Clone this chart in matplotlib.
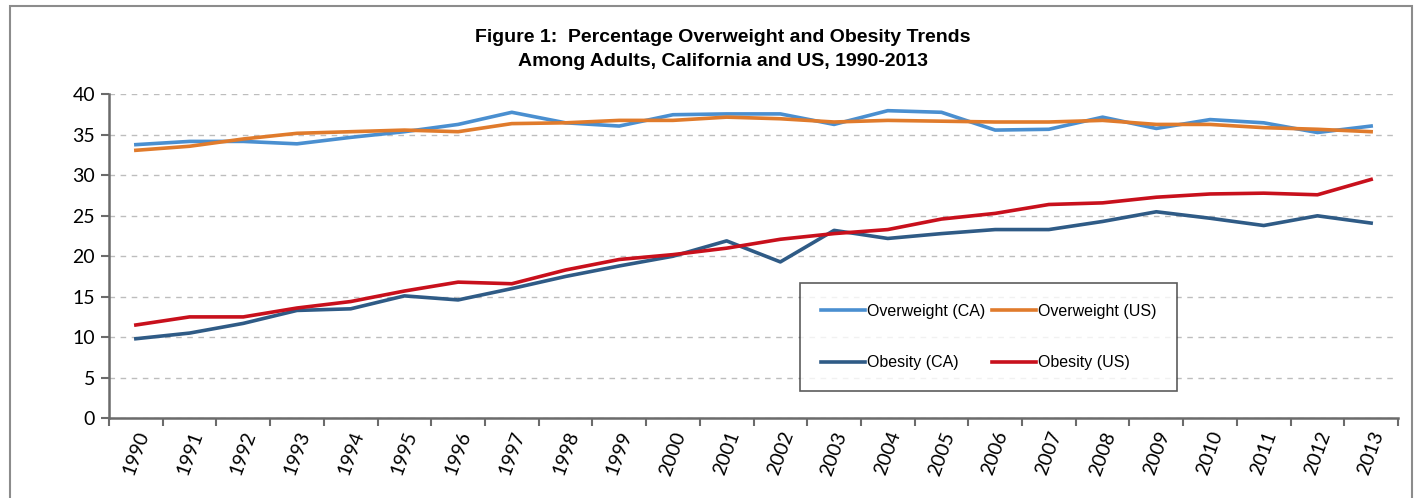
import matplotlib
matplotlib.use('Agg')
import matplotlib.pyplot as plt
import matplotlib.patches as mpatches
import numpy as np

#%% data

years = [str(y) for y in range(1990, 2014)]

overweight_ca = [33.8, 34.2, 34.2, 33.9, 34.7, 35.4, 36.3, 37.8, 36.5, 36.1, 37.5, 37.6,
                 37.6, 36.3, 38.0, 37.8, 35.6, 35.7, 37.2, 35.8, 36.9, 36.5, 35.3, 36.1]
overweight_us = [33.1, 33.6, 34.5, 35.2, 35.4, 35.6, 35.4, 36.4, 36.5, 36.8, 36.8, 37.2,
                 37.0, 36.6, 36.8, 36.7, 36.6, 36.6, 36.8, 36.3, 36.3, 35.9, 35.7, 35.4]
obesity_ca = [9.8, 10.5, 11.7, 13.3, 13.5, 15.1, 14.6, 16.0, 17.5, 18.8, 20.0, 21.9,
              19.3, 23.2, 22.2, 22.8, 23.3, 23.3, 24.3, 25.5, 24.7, 23.8, 25.0, 24.1]
obesity_us = [11.5, 12.5, 12.5, 13.6, 14.4, 15.7, 16.8, 16.6, 18.3, 19.6, 20.2, 21.0,
              22.1, 22.8, 23.3, 24.6, 25.3, 26.4, 26.6, 27.3, 27.7, 27.8, 27.6, 29.5]

series = [('Overweight (CA)', overweight_ca, '#4a8fd0'),
          ('Overweight (US)', overweight_us, '#e07b2c'),
          ('Obesity (CA)', obesity_ca, '#2f5b86'),
          ('Obesity (US)', obesity_us, '#c8101c')]

#%% plot

fig = plt.figure(figsize=(14.24, 4.98), dpi=100)
ax = fig.add_axes([109/1424, 1 - 418/498, (1398 - 109)/1424, (418 - 94.5)/498])

x = np.arange(len(years))
lines = {}
for label, vals, color in series:
    lines[label], = ax.plot(x, vals, color=color, linewidth=2.6, label=label,
                            solid_joinstyle='round', zorder=3)

ax.set_xlim(-0.5, len(years) - 0.5)
ax.set_ylim(0, 40)
ax.set_yticks(range(0, 41, 5))
ax.yaxis.grid(True, linestyle=(0, (4, 4)), color='#bdbdbd', linewidth=1.0)
ax.set_axisbelow(True)

# category axis: ticks between categories, labels at the centres
ax.set_xticks(np.arange(-0.5, len(years), 1.0))
ax.set_xticklabels([])
ax.set_xticks(x, minor=True)
ax.set_xticklabels(years, minor=True, rotation=70, fontsize=14,
                   family=['Lato', 'DejaVu Sans'])
ax.tick_params(axis='x', which='minor', length=0, pad=8)
ax.tick_params(axis='x', which='major', length=6, width=1.5, color='#6b6b6b')
ax.tick_params(axis='y', length=6, width=1.5, color='#6b6b6b', pad=4)
for lab in ax.get_yticklabels():
    lab.set_fontsize(14)
    lab.set_family(['Lato', 'DejaVu Sans'])

for side in ['top', 'right']:
    ax.spines[side].set_visible(False)
for side in ['left', 'bottom']:
    ax.spines[side].set_color('#6b6b6b')
    ax.spines[side].set_linewidth(1.8)

fig.text(723/1424, 1 - 37/498, 'Figure 1:  Percentage Overweight and Obesity Trends',
         ha='center', va='center', fontsize=14, fontweight='bold',
         family=['Liberation Sans', 'DejaVu Sans'])
fig.text(723/1424, 1 - 61/498, 'Among Adults, California and US, 1990-2013',
         ha='center', va='center', fontsize=14, fontweight='bold',
         family=['Liberation Sans', 'DejaVu Sans'])

leg = ax.legend(handles=[lines['Overweight (CA)'], lines['Obesity (CA)'],
                         lines['Overweight (US)'], lines['Obesity (US)']],
                ncol=2, loc='upper left', bbox_to_anchor=(800/1424, 1 - 283/498),
                bbox_transform=fig.transFigure, frameon=True, fancybox=False,
                prop={'family': ['Liberation Sans', 'DejaVu Sans'], 'size': 11.5},
                handlelength=2.8, handletextpad=0.1, columnspacing=0.4,
                labelspacing=2.3, borderpad=1.3, borderaxespad=0)
leg.get_frame().set_edgecolor('#333333')
leg.get_frame().set_linewidth(1.2)

# outer frame around the chart area
fig.patches.append(mpatches.Rectangle((10/1424, -0.1), (1412 - 10)/1424, 1.1 - 6/498,
                                      transform=fig.transFigure, fill=False,
                                      edgecolor='#8c8c8c', linewidth=1.5))

plt.savefig('out.png', dpi=100)
